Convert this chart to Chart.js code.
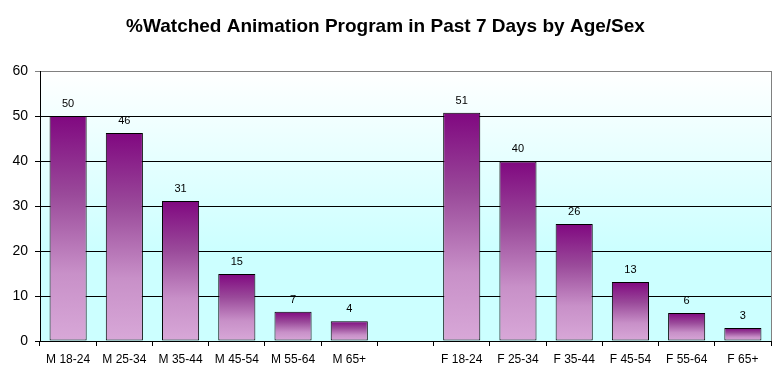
<!DOCTYPE html>
<html>
<head>
<meta charset="utf-8">
<script src="https://cdn.jsdelivr.net/npm/chart.js@4.4.1/dist/chart.umd.min.js"></script>
<style>
html,body{margin:0;padding:0;background:#fff;}
#wrap{width:781px;height:383px;position:relative;}
</style>
</head>
<body>
<div id="wrap"><canvas id="c" width="781" height="383"></canvas></div>
<script>
const categories = ['M 18-24','M 25-34','M 35-44','M 45-54','M 55-64','M 65+','','F 18-24','F 25-34','F 35-44','F 45-54','F 55-64','F 65+'];
const watched = [50.0, 46.2, 31.1, 14.9, 6.5, 4.4, null, 50.7, 39.9, 26.0, 13.1, 6.2, 2.9];
const valueLabels = ['50','46','31','15','7','4','','51','40','26','13','6','3'];
const yTicks = [0, 10, 20, 30, 40, 50, 60];

Chart.defaults.font.family = "'Liberation Sans', Arial, sans-serif";
Chart.defaults.color = '#000';

const bgPlugin = {
  id: 'plotBg',
  beforeDraw(chart) {
    const {ctx, chartArea: a} = chart;
    const g = ctx.createLinearGradient(0, a.top, 0, a.bottom);
    g.addColorStop(0, '#ffffff');
    g.addColorStop(0.66, '#ccffff');
    g.addColorStop(1, '#ccffff');
    ctx.save();
    ctx.fillStyle = g;
    ctx.fillRect(a.left, a.top, a.right - a.left, a.bottom - a.top);
    ctx.restore();
  },
  afterDraw(chart) {
    const {ctx, chartArea: a} = chart;
    ctx.save();
    ctx.strokeStyle = '#808080';
    ctx.lineWidth = 1;
    ctx.beginPath();
    ctx.moveTo(Math.round(a.right) + 0.5, a.top);
    ctx.lineTo(Math.round(a.right) + 0.5, a.bottom);
    ctx.stroke();
    ctx.restore();
  }
};

const labelPlugin = {
  id: 'valLabels',
  afterDatasetsDraw(chart) {
    const {ctx} = chart;
    const meta = chart.getDatasetMeta(0);
    ctx.save();
    ctx.font = "11px 'Liberation Sans', Arial, sans-serif";
    ctx.fillStyle = '#000';
    ctx.textAlign = 'center';
    ctx.textBaseline = 'alphabetic';
    meta.data.forEach((bar, i) => {
      if (watched[i] == null) return;
      ctx.fillText(valueLabels[i], bar.x, bar.y - 9);
    });
    ctx.restore();
  }
};

new Chart(document.getElementById('c'), {
  type: 'bar',
  data: {
    labels: categories,
    datasets: [{
      data: watched,
      borderColor: '#000000',
      borderWidth: 1,
      borderSkipped: false,
      categoryPercentage: 1,
      barPercentage: 0.66,
      backgroundColor(ctx) {
        const chart = ctx.chart;
        const ys = chart.scales && chart.scales.y;
        const v = ctx.raw;
        if (!chart.chartArea || !ys || v == null) return '#b070b0';
        const top = ys.getPixelForValue(v), base = ys.getPixelForValue(0);
        if (!isFinite(top) || !isFinite(base) || base - top < 1) return '#b070b0';
        const g = chart.ctx.createLinearGradient(0, top, 0, base);
        g.addColorStop(0, '#800880');
        g.addColorStop(0.35, '#9a4a9a');
        g.addColorStop(0.7, '#c890c8');
        g.addColorStop(1, '#d8a8d8');
        return g;
      }
    }]
  },
  options: {
    responsive: false,
    animation: false,
    layout: {padding: {left: 0, right: 10, top: 0, bottom: 0}},
    plugins: {
      legend: {display: false},
      tooltip: {enabled: false},
      title: {
        display: true,
        text: '%Watched Animation Program in Past 7 Days by Age/Sex',
        font: {size: 19, weight: 'bold'},
        color: '#000',
        padding: {top: 15, bottom: 33.2}
      }
    },
    scales: {
      x: {
        grid: {display: true, drawOnChartArea: false, drawTicks: true, tickLength: 5, color: '#000', offset: true},
        border: {display: true, color: '#000', width: 1},
        ticks: {font: {size: 12}, color: '#000', padding: 6, maxRotation: 0, autoSkip: false},
        afterFit(s) { s.height = 42; }
      },
      y: {
        min: 0, max: 60,
        afterBuildTicks(s) { s.ticks = yTicks.map(v => ({value: v})); },
        grid: {
          drawTicks: true, tickLength: 5,
          color(ctx) { return ctx.tick && ctx.tick.value === 60 ? '#808080' : '#000'; },
          lineWidth: 1
        },
        border: {display: true, color: '#000', width: 1},
        ticks: {font: {size: 14}, color: '#000', padding: 7},
        afterFit(s) { s.width = 40; }
      }
    }
  },
  plugins: [bgPlugin, labelPlugin]
});
</script>
</body>
</html>
